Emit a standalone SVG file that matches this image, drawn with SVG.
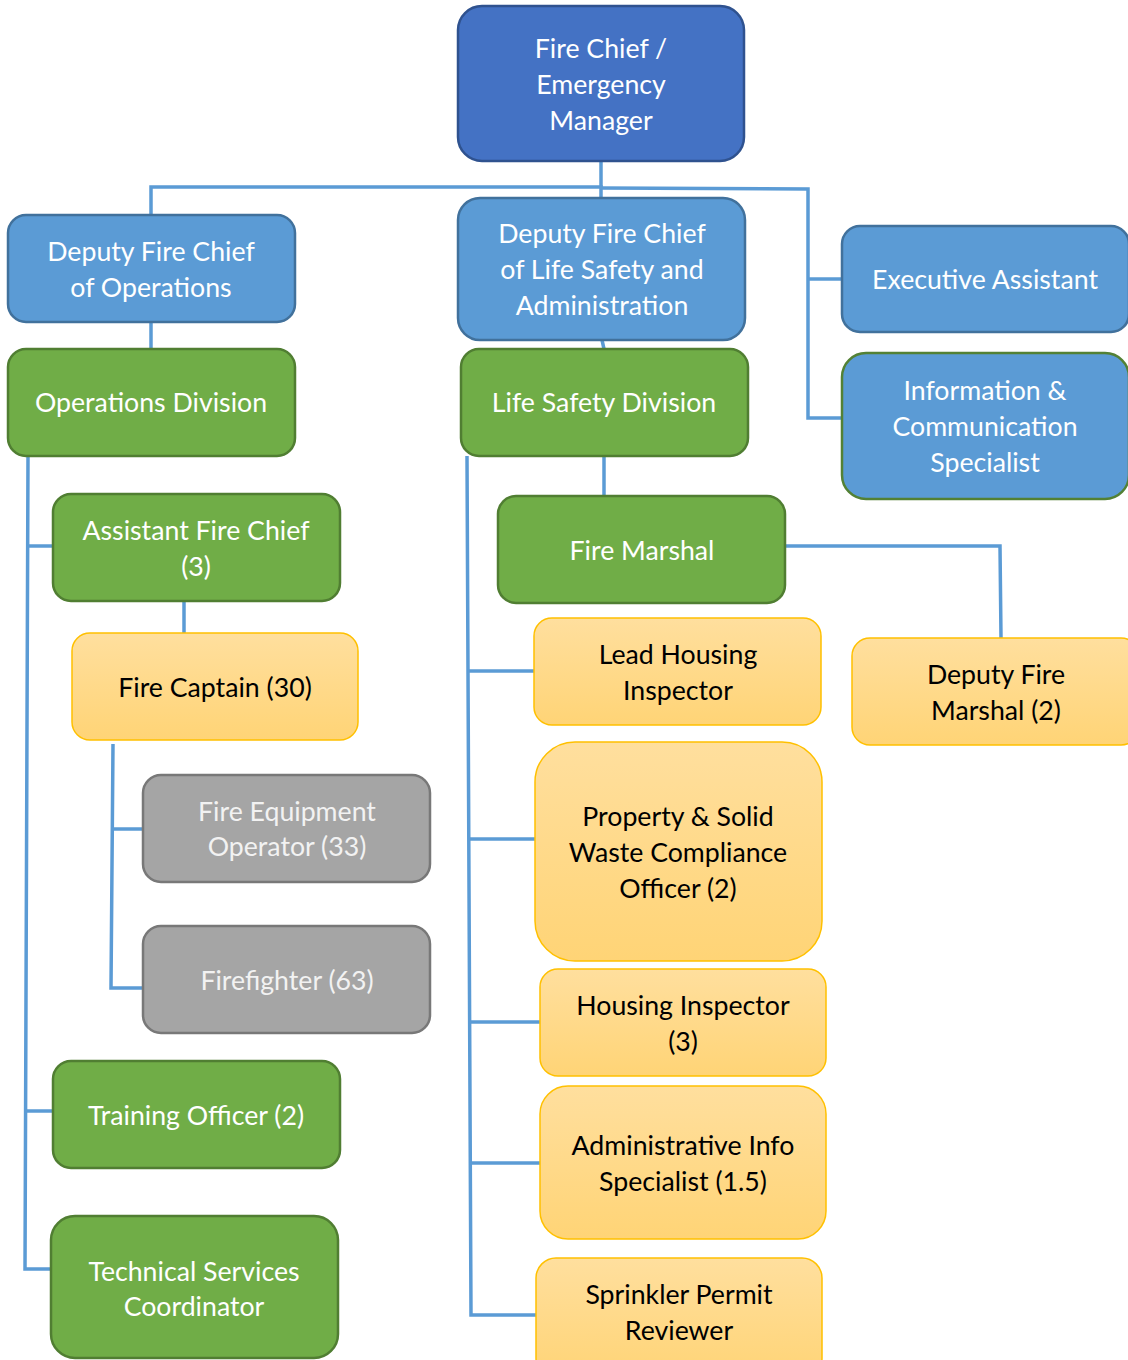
<svg xmlns="http://www.w3.org/2000/svg" width="1128" height="1360" viewBox="0 0 1128 1360">
<style>
.t{font-family:Lato,"Open Sans","Liberation Sans",sans-serif;font-size:26.7px;text-anchor:middle;dominant-baseline:central}
.w{fill:#ffffff}.g{fill:#f2f2f2}.k{fill:#000000}
.dark{fill:#4472C4;stroke:#2F528F;stroke-width:2.5}
.blue{fill:#5B9BD5;stroke:#41719C;stroke-width:2.5}
.blueg{fill:#5B9BD5;stroke:#538135;stroke-width:2.5}
.green{fill:#70AD47;stroke:#507E32;stroke-width:2.5}
.gray{fill:#A5A5A5;stroke:#787878;stroke-width:2.5}
.or{fill:url(#og);stroke:#FFC000;stroke-width:1.5}
.c{fill:none;stroke:#5B9BD5;stroke-width:3.5}
</style>
<defs>
<linearGradient id="og" x1="0" y1="0" x2="0" y2="1">
<stop offset="0" stop-color="#FFDF9E"/>
<stop offset="1" stop-color="#FFD476"/>
</linearGradient>
</defs>
<rect width="1128" height="1360" fill="#ffffff"/>
<g id="connectors">
<polyline class="c" points="601,161 601,188"/>
<polyline class="c" points="151,215 151,187 601,187 601,198"/>
<polyline class="c" points="601,188 808,189 808,418 842,418"/>
<polyline class="c" points="808,279 842,279"/>
<polyline class="c" points="151,322 151,349"/>
<polyline class="c" points="602,340 604,349"/>
<polyline class="c" points="28,456 25,1269 51,1269"/>
<polyline class="c" points="27,546 53,546"/>
<polyline class="c" points="26,1111 53,1111"/>
<polyline class="c" points="184,601 184,633"/>
<polyline class="c" points="113,744 111,988 143,988"/>
<polyline class="c" points="112,829 143,829"/>
<polyline class="c" points="467,456 471,1315 536,1315"/>
<polyline class="c" points="468,671 534,671"/>
<polyline class="c" points="469,839 535,839"/>
<polyline class="c" points="470,1022 540,1022"/>
<polyline class="c" points="470,1163 540,1163"/>
<polyline class="c" points="604,456 604,496"/>
<polyline class="c" points="785,546 1000,546 1001,638"/>
</g>
<g id="fire-chief"><rect class="dark" x="458" y="6" width="286" height="155" rx="24"/>
<text class="t w" x="601" y="48">Fire Chief /</text><text class="t w" x="601" y="84">Emergency</text><text class="t w" x="601" y="120">Manager</text></g>
<g id="deputy-ops"><rect class="blue" x="8" y="215" width="287" height="107" rx="18"/>
<text class="t w" x="151" y="251">Deputy Fire Chief</text><text class="t w" x="151" y="287">of Operations</text></g>
<g id="deputy-ls"><rect class="blue" x="458" y="198" width="287" height="142" rx="22"/>
<text class="t w" x="602" y="233">Deputy Fire Chief</text><text class="t w" x="602" y="269">of Life Safety and</text><text class="t w" x="602" y="305">Administration</text></g>
<g id="exec-assistant"><rect class="blue" x="842" y="226" width="287" height="106" rx="18"/>
<text class="t w" x="985" y="279">Executive Assistant</text></g>
<g id="info-comm"><rect class="blueg" x="842" y="353" width="287" height="146" rx="24"/>
<text class="t w" x="985" y="390">Information &amp;</text><text class="t w" x="985" y="426">Communication</text><text class="t w" x="985" y="462">Specialist</text></g>
<g id="ops-division"><rect class="green" x="8" y="349" width="287" height="107" rx="18"/>
<text class="t w" x="151" y="402">Operations Division</text></g>
<g id="ls-division"><rect class="green" x="461" y="349" width="287" height="107" rx="18"/>
<text class="t w" x="604" y="402">Life Safety Division</text></g>
<g id="asst-chief"><rect class="green" x="53" y="494" width="287" height="107" rx="18"/>
<text class="t w" x="196" y="530">Assistant Fire Chief</text><text class="t w" x="196" y="566">(3)</text></g>
<g id="fire-marshal"><rect class="green" x="498" y="496" width="287" height="107" rx="18"/>
<text class="t w" x="642" y="550">Fire Marshal</text></g>
<g id="fire-captain"><rect class="or" x="72" y="633" width="286" height="107" rx="18"/>
<text class="t k" x="215" y="687">Fire Captain (30)</text></g>
<g id="equip-operator"><rect class="gray" x="143" y="775" width="287" height="107" rx="18"/>
<text class="t g" x="287" y="811">Fire Equipment</text><text class="t g" x="287" y="846">Operator (33)</text></g>
<g id="firefighter"><rect class="gray" x="143" y="926" width="287" height="107" rx="18"/>
<text class="t g" x="287" y="980">Firefighter (63)</text></g>
<g id="training-officer"><rect class="green" x="53" y="1061" width="287" height="107" rx="18"/>
<text class="t w" x="196" y="1115">Training Officer (2)</text></g>
<g id="tech-services"><rect class="green" x="51" y="1216" width="287" height="142" rx="24"/>
<text class="t w" x="194" y="1271">Technical Services</text><text class="t w" x="194" y="1306">Coordinator</text></g>
<g id="lead-housing"><rect class="or" x="534" y="618" width="287" height="107" rx="18"/>
<text class="t k" x="678" y="654">Lead Housing</text><text class="t k" x="678" y="690">Inspector</text></g>
<g id="deputy-marshal"><rect class="or" x="852" y="638" width="287" height="107" rx="18"/>
<text class="t k" x="996" y="674">Deputy Fire</text><text class="t k" x="996" y="710">Marshal (2)</text></g>
<g id="property-waste"><rect class="or" x="535" y="742" width="287" height="219" rx="40"/>
<text class="t k" x="678" y="816">Property &amp; Solid</text><text class="t k" x="678" y="852">Waste Compliance</text><text class="t k" x="678" y="888">Officer (2)</text></g>
<g id="housing-inspector"><rect class="or" x="540" y="969" width="286" height="107" rx="18"/>
<text class="t k" x="683" y="1005">Housing Inspector</text><text class="t k" x="683" y="1041">(3)</text></g>
<g id="admin-info"><rect class="or" x="540" y="1086" width="286" height="153" rx="28"/>
<text class="t k" x="683" y="1145">Administrative Info</text><text class="t k" x="683" y="1181">Specialist (1.5)</text></g>
<g id="sprinkler"><rect class="or" x="536" y="1258" width="286" height="120" rx="20"/>
<text class="t k" x="679" y="1294">Sprinkler Permit</text><text class="t k" x="679" y="1330">Reviewer</text></g>
</svg>
